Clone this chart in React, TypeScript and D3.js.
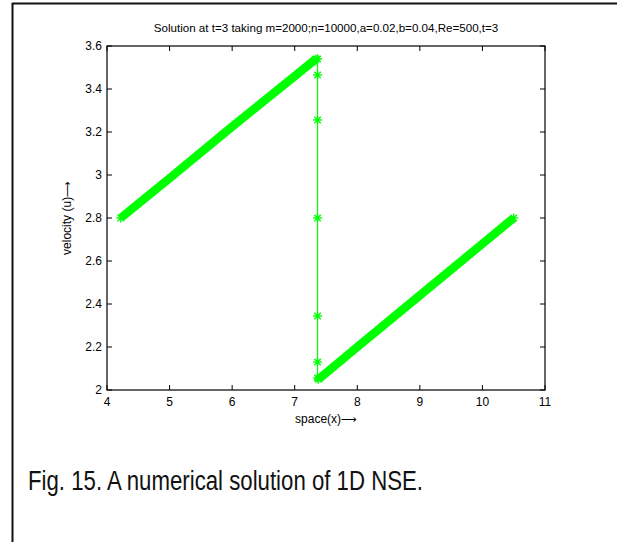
import React from 'react';
import * as d3 from 'd3';

// values
const leftX = [4.22, 5, 6, 7, 7.34];
const leftU = [2.8, 2.985, 3.225, 3.46, 3.54];
const shockX = 7.365;
const shockU = [3.54, 3.465, 3.256, 2.8, 2.344, 2.13, 2.056];
const rightX = [7.38, 8, 9, 10, 10.5];
const rightU = [2.05, 2.2, 2.44, 2.68, 2.8];
const xTicks = [4, 5, 6, 7, 8, 9, 10, 11];
const yTicks = [2, 2.2, 2.4, 2.6, 2.8, 3, 3.2, 3.4, 3.6];

const W = 617;
const H = 542;
const GREEN = '#00ff00';
const FONT = 'Liberation Sans, Arial, sans-serif';
const ARROW_FONT = 'DejaVu Sans, sans-serif';

const Star = ({ x, y, r = 4.5 }: { x: number; y: number; r?: number }) => {
  const d = r * 0.72;
  return (
    <g stroke={GREEN} strokeWidth={1.4}>
      <line x1={x - r} y1={y} x2={x + r} y2={y} />
      <line x1={x} y1={y - r} x2={x} y2={y + r} />
      <line x1={x - d} y1={y - d} x2={x + d} y2={y + d} />
      <line x1={x - d} y1={y + d} x2={x + d} y2={y - d} />
    </g>
  );
};

export default function App() {
  const x = d3.scaleLinear().domain([4, 11]).range([107, 545]);
  const y = d3.scaleLinear().domain([2, 3.6]).range([390, 46]);

  const left = leftX.map((v, i) => [v, leftU[i]] as [number, number]);
  const right = rightX.map((v, i) => [v, rightU[i]] as [number, number]);
  const shock = shockU.map((u) => [shockX, u] as [number, number]);

  const line = d3.line<[number, number]>().x((d) => x(d[0])).y((d) => y(d[1]));
  const all = [...left, ...shock, ...right];
  const ends = [left[0], left[left.length - 1], right[0], right[right.length - 1]];

  const [x0, x1] = x.range();
  const [y0, y1] = y.range();

  return (
    <svg
      width={W}
      height={H}
      style={{ position: 'absolute', left: 0, top: 0, background: '#fff' }}
      fontFamily={FONT}
    >
      {/* figure frame */}
      <line x1={12.5} y1={3} x2={12.5} y2={H} stroke="#111" strokeWidth={2} />
      <line x1={12} y1={3.5} x2={W} y2={3.5} stroke="#111" strokeWidth={2} />

      {/* data */}
      <path d={line(all) || ''} fill="none" stroke={GREEN} strokeWidth={1.2} />
      <path d={line(left) || ''} fill="none" stroke={GREEN} strokeWidth={8.5} />
      <path d={line(right) || ''} fill="none" stroke={GREEN} strokeWidth={8.5} />
      {ends.map((d, i) => (
        <Star key={'e' + i} x={x(d[0])} y={y(d[1])} />
      ))}
      {shock.map((d, i) => (
        <Star key={i} x={x(d[0])} y={y(d[1])} />
      ))}

      {/* axes box */}
      <rect x={x0} y={y1} width={x1 - x0} height={y0 - y1} fill="none" stroke="#000" strokeWidth={1.2} />
      {xTicks.map((t) => (
        <g key={'x' + t}>
          <line x1={x(t)} x2={x(t)} y1={y0} y2={y0 - 5} stroke="#000" />
          <line x1={x(t)} x2={x(t)} y1={y1} y2={y1 + 5} stroke="#000" />
          <text x={x(t)} y={y0 + 16} textAnchor="middle" fontSize={12}>
            {t}
          </text>
        </g>
      ))}
      {yTicks.map((t) => (
        <g key={'y' + t}>
          <line x1={x0} x2={x0 + 5} y1={y(t)} y2={y(t)} stroke="#000" />
          <line x1={x1} x2={x1 - 5} y1={y(t)} y2={y(t)} stroke="#000" />
          <text x={x0 - 5} y={y(t) + 4} textAnchor="end" fontSize={12}>
            {d3.format('')(t)}
          </text>
        </g>
      ))}

      <text x={(x0 + x1) / 2} y={32} textAnchor="middle" fontSize={11.6}>
        Solution at t=3 taking m=2000;n=10000,a=0.02,b=0.04,Re=500,t=3
      </text>
      <text x={(x0 + x1) / 2} y={423} textAnchor="middle" fontSize={12}>
        space(x)<tspan fontFamily={ARROW_FONT} fontSize={11}>⟶</tspan>
      </text>
      <text
        transform={`translate(71,${(y0 + y1) / 2}) rotate(-90)`}
        textAnchor="middle"
        fontSize={12}
      >
        velocity (u)<tspan fontFamily={ARROW_FONT} fontSize={11}>⟶</tspan>
      </text>

      <text
        x={28}
        y={490}
        fontSize={27}
        fontFamily="Liberation Sans Narrow, Arial Narrow, Liberation Sans, sans-serif"
        fill="#111"
        textLength={395}
        lengthAdjust="spacingAndGlyphs"
      >
        Fig. 15. A numerical solution of 1D NSE.
      </text>
    </svg>
  );
}
